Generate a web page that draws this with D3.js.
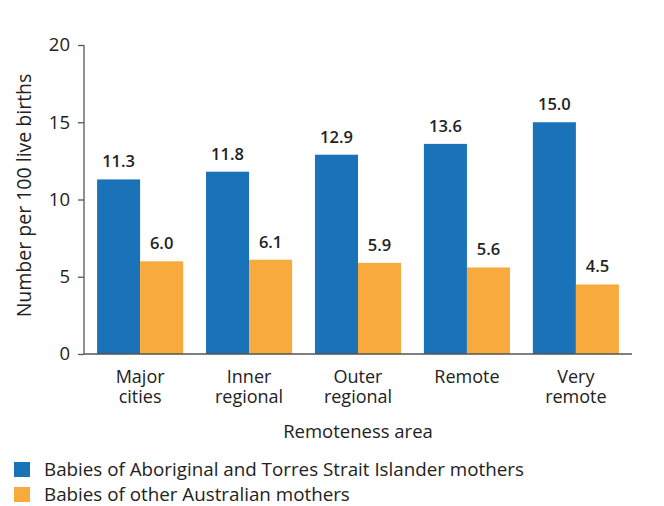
<!DOCTYPE html>
<html>
<head>
<meta charset="utf-8">
<script src="https://cdn.jsdelivr.net/npm/d3@7"></script>
<style>
  body { margin: 0; background: #fff; }
  svg { display: block; font-family: "Open Sans", "Liberation Sans", sans-serif; }
</style>
</head>
<body>
<div id="chart"></div>
<script>
const categories = [["Major", "cities"], ["Inner", "regional"], ["Outer", "regional"], ["Remote"], ["Very", "remote"]];
const seriesNames = ["Babies of Aboriginal and Torres Strait Islander mothers", "Babies of other Australian mothers"];
const indigenous = [11.3, 11.8, 12.9, 13.6, 15.0];
const other = [6.0, 6.1, 5.9, 5.6, 4.5];
const yTicks = [0, 5, 10, 15, 20];
const colors = ["#1a73b9", "#f8aa3c"];

const W = 664, H = 506;
const m = { left: 84, right: 32, top: 45, bottom: 152 };

const svg = d3.select("#chart").append("svg").attr("width", W).attr("height", H);

const x0 = d3.scaleBand().domain(d3.range(categories.length))
  .range([m.left, W - m.right]).paddingInner(0.21).paddingOuter(0.12);
const x1 = d3.scaleBand().domain([0, 1]).range([0, x0.bandwidth()]);
const y = d3.scaleLinear().domain([0, 20]).range([H - m.bottom, m.top]);

// y axis
const ya = svg.append("g").attr("transform", `translate(${m.left},0)`)
  .call(d3.axisLeft(y).tickValues(yTicks).tickSize(6).tickPadding(8));
ya.selectAll("text").attr("font-size", 18.5).attr("fill", "#222").attr("font-family", "Open Sans");
ya.selectAll("line, path").attr("stroke", "#555").attr("stroke-width", 1.3);
ya.select(".domain").attr("d", `M0,${y(20)}V${y(0)}`);

// bars
const series = [indigenous, other];
series.forEach((vals, s) => {
  svg.append("g").selectAll("rect").data(vals).join("rect")
    .attr("x", (d, i) => x0(i) + x1(s))
    .attr("y", d => y(d))
    .attr("width", x1.bandwidth())
    .attr("height", d => y(0) - y(d))
    .attr("fill", colors[s]);
  svg.append("g").selectAll("text").data(vals).join("text")
    .attr("x", (d, i) => x0(i) + x1(s) + x1.bandwidth() / 2)
    .attr("y", d => y(d) - 12)
    .attr("text-anchor", "middle")
    .attr("font-size", 16.5).attr("font-weight", 600).attr("fill", "#222")
    .text(d => d.toFixed(1));
});

// x axis line
svg.append("line")
  .attr("x1", m.left).attr("x2", W - m.right)
  .attr("y1", y(0)).attr("y2", y(0))
  .attr("stroke", "#555").attr("stroke-width", 1.3);

// category labels, one text per line
const cg = svg.append("g").selectAll("g").data(categories).join("g")
  .attr("transform", (d, i) => `translate(${x0(i) + x0.bandwidth() / 2},${y(0) + 29})`);
cg.selectAll("text").data(d => d).join("text")
  .attr("y", (d, i) => i * 20)
  .attr("text-anchor", "middle")
  .attr("font-size", 18).attr("fill", "#222")
  .text(d => d);

// axis titles
svg.append("text")
  .attr("x", (m.left + W - m.right) / 2).attr("y", 438)
  .attr("text-anchor", "middle").attr("font-size", 18.5).attr("fill", "#222")
  .text("Remoteness area");

svg.append("text")
  .attr("transform", `translate(31,${(y(0) + y(20)) / 2 - 4}) rotate(-90)`)
  .attr("text-anchor", "middle").attr("font-size", 19.5).attr("fill", "#222")
  .text("Number per 100 live births");

// legend
const lg = svg.append("g").selectAll("g").data(seriesNames).join("g")
  .attr("transform", (d, i) => `translate(14,${462 + i * 25})`);
lg.append("rect").attr("width", 16).attr("height", 15).attr("fill", (d, i) => colors[i]);
lg.append("text").attr("x", 30).attr("y", 14)
  .attr("font-size", 18.8).attr("fill", "#222").text(d => d);
</script>
</body>
</html>
